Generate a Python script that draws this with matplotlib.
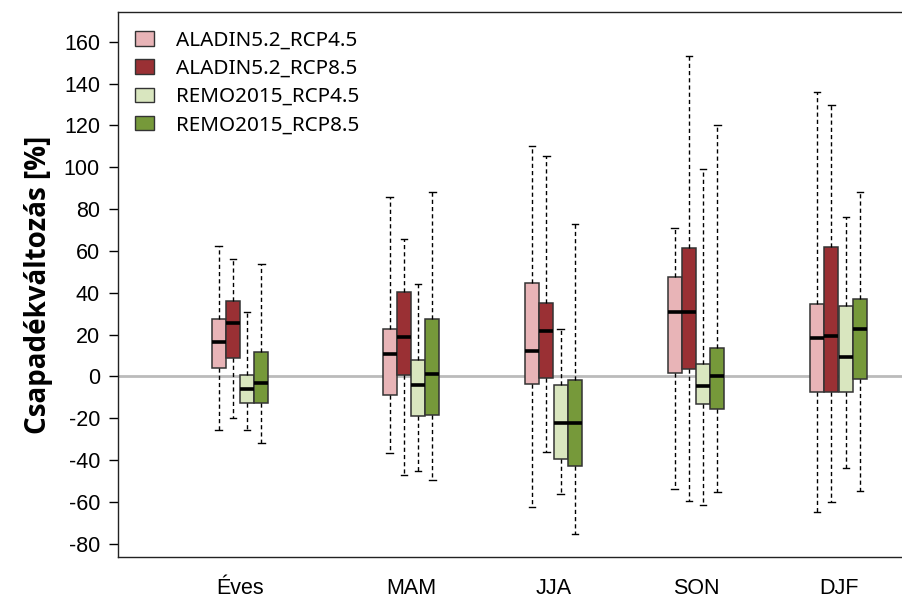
import matplotlib

matplotlib.use("Agg")
import matplotlib.pyplot as plt
from matplotlib.patches import Patch

# seasons and their group centres (Éves set apart from the seasons)
seasons = ["Éves", "MAM", "JJA", "SON", "DJF"]
group_pos = [0.0, 1.2, 2.2, 3.2, 4.2]

runs = ["ALADIN5.2_RCP4.5", "ALADIN5.2_RCP8.5", "REMO2015_RCP4.5", "REMO2015_RCP8.5"]
colors = ["#e8b4b7", "#9a3034", "#d9e6bf", "#76993a"]

# per run: one value per season (Éves, MAM, JJA, SON, DJF)
whis_hi = {
    "ALADIN5.2_RCP4.5": [62.4, 85.8, 110.3, 70.9, 136.0],
    "ALADIN5.2_RCP8.5": [56.0, 65.5, 105.5, 153.4, 129.9],
    "REMO2015_RCP4.5": [31.0, 44.3, 22.8, 99.3, 76.0],
    "REMO2015_RCP8.5": [53.7, 88.4, 73.0, 120.3, 88.4],
}
q3 = {
    "ALADIN5.2_RCP4.5": [27.6, 22.7, 44.6, 47.3, 34.6],
    "ALADIN5.2_RCP8.5": [35.9, 40.3, 35.1, 61.5, 62.1],
    "REMO2015_RCP4.5": [0.5, 8.0, -4.0, 6.1, 33.5],
    "REMO2015_RCP8.5": [11.7, 27.4, -1.6, 13.7, 37.0],
}
med = {
    "ALADIN5.2_RCP4.5": [16.4, 10.5, 12.4, 30.6, 18.2],
    "ALADIN5.2_RCP8.5": [25.5, 18.8, 21.8, 30.6, 19.3],
    "REMO2015_RCP4.5": [-5.9, -4.3, -22.3, -4.8, 9.3],
    "REMO2015_RCP8.5": [-2.9, 1.0, -22.3, 0.0, 22.7],
}
q1 = {
    "ALADIN5.2_RCP4.5": [4.1, -8.7, -3.6, 1.6, -7.2],
    "ALADIN5.2_RCP8.5": [8.8, 0.8, -0.8, 3.5, -7.2],
    "REMO2015_RCP4.5": [-12.9, -18.8, -39.5, -13.0, -7.2],
    "REMO2015_RCP8.5": [-12.9, -18.3, -43.0, -15.6, -1.2],
}
whis_lo = {
    "ALADIN5.2_RCP4.5": [-25.5, -36.6, -62.6, -53.8, -64.8],
    "ALADIN5.2_RCP8.5": [-20.0, -47.3, -36.1, -59.7, -60.0],
    "REMO2015_RCP4.5": [-25.6, -45.4, -56.2, -61.3, -43.8],
    "REMO2015_RCP8.5": [-31.8, -49.4, -75.3, -55.0, -54.6],
}

yticks = list(range(-80, 161, 20))

box_w = 0.1
offsets = [-1.5, -0.5, 0.5, 1.5]

fig = plt.figure(figsize=(9.02, 6.0), dpi=100)
ax = fig.add_axes([118 / 902, 43 / 600, 790 / 902, 545 / 600])

ax.axhline(0, color="#bbbbbb", linewidth=2.0, zorder=0)

for k, run in enumerate(runs):
    stats = []
    for i in range(len(seasons)):
        stats.append(dict(med=med[run][i], q1=q1[run][i], q3=q3[run][i],
                          whislo=whis_lo[run][i], whishi=whis_hi[run][i], fliers=[]))
    pos = [g + offsets[k] * box_w for g in group_pos]
    ax.bxp(stats, positions=pos, widths=box_w * 0.98, capwidths=0.045,
           patch_artist=True, showfliers=False, manage_ticks=False,
           boxprops=dict(facecolor=colors[k], edgecolor="#333333", linewidth=1.1),
           medianprops=dict(color="black", linewidth=2.6, solid_capstyle="butt"),
           whiskerprops=dict(color="black", linewidth=1.0, linestyle=(0, (3, 2.2))),
           capprops=dict(color="black", linewidth=1.0))

ax.set_xlim(-0.856, 4.687)
ax.set_ylim(-86.3, 174.2)
ax.set_yticks(yticks)
ax.set_yticklabels([str(v) for v in yticks], family="Liberation Sans", fontsize=15.5)
ax.set_xticks(group_pos)
ax.set_xticklabels(seasons, family="Liberation Sans", fontsize=15.5)
ax.tick_params(axis="x", length=0, pad=15)
ax.tick_params(axis="y", length=6.5, width=1, pad=6.5)
ax.spines["right"].set_visible(False)
for side in ["left", "bottom", "top"]:
    ax.spines[side].set_linewidth(1.0)
    ax.spines[side].set_color("#222222")

ax.set_ylabel("Csapadékváltozás [%]", family="Open Sans", fontweight="bold",
              fontsize=20, labelpad=8)

handles = [Patch(facecolor=c, edgecolor="#333333", linewidth=1.0) for c in colors]
ax.legend(handles, runs, loc="upper left", bbox_to_anchor=(0.022, 0.966), frameon=False,
          prop=dict(family="Noto Sans", size=14.9), handlelength=0.9, handleheight=0.7,
          handletextpad=1.05, labelspacing=0.4, borderaxespad=0.0, borderpad=0.0)

fig.savefig("out.png", dpi=100)
